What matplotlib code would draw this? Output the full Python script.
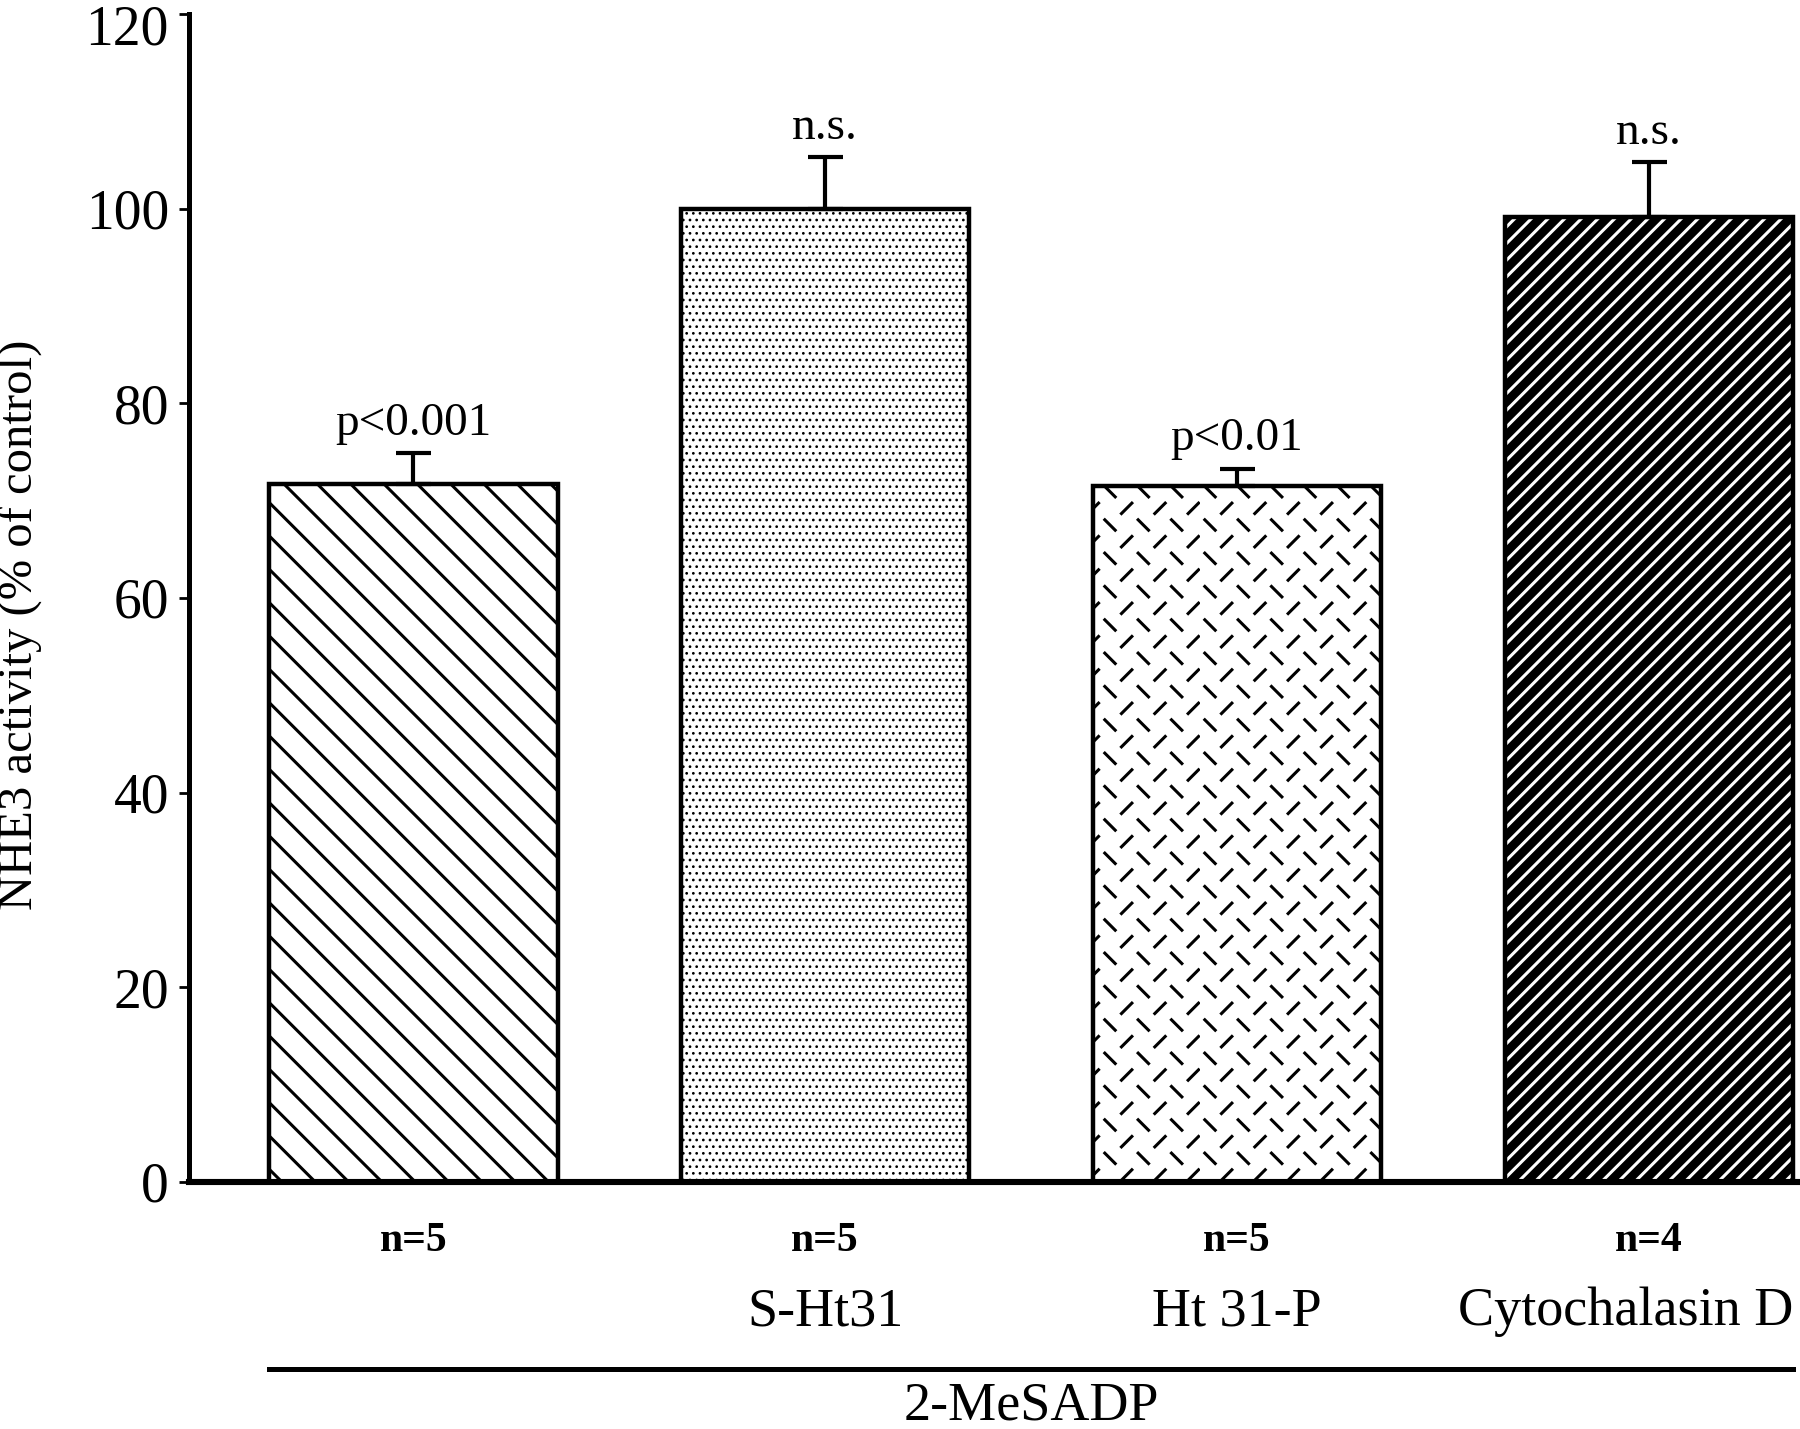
import warnings

import matplotlib
matplotlib.use('Agg')
import matplotlib.pyplot as plt
from matplotlib import hatch as mhatch
from matplotlib.path import Path
from matplotlib.transforms import ScaledTranslation

# values
groups = ['control', 'S-Ht31', 'Ht 31-P', 'Cytochalasin D']
treatments = ['', 'S-Ht31', 'Ht 31-P', 'Cytochalasin D']
n_labels = ['n=5', 'n=5', 'n=5', 'n=4']
activity = [71.7, 100.0, 71.5, 99.1]
sem = [3.2, 5.3, 1.8, 5.7]
sig_labels = ['p<0.001', 'n.s.', 'p<0.01', 'n.s.']
yticks = [0, 20, 40, 60, 80, 100, 120]


class Herringbone(mhatch.HatchPatternBase):
    """short dashes, rows alternating '\\' and '/' (hatch char 'z')"""

    def __init__(self, hatch, density):
        self.rows = 12 if 'z' in hatch else 0
        self.cols = 6
        self.num_vertices = self.rows * self.cols * 2

    def set_vertices_and_codes(self, vertices, codes):
        d = 0.026
        k = 0
        for r in range(self.rows):
            y = (r + 0.5) / self.rows
            for c in range(self.cols):
                if r % 2 == 0:
                    x = (c + 0.3) / self.cols
                    vertices[k] = (x - d, y + d)
                    vertices[k + 1] = (x + d, y - d)
                else:
                    x = (c + 0.8) / self.cols
                    vertices[k] = (x - d, y - d)
                    vertices[k + 1] = (x + d, y + d)
                codes[k] = Path.MOVETO
                codes[k + 1] = Path.LINETO
                k += 2


mhatch._hatch_types.append(Herringbone)
warnings.filterwarnings('ignore')

plt.rcParams['font.family'] = ['Liberation Serif', 'DejaVu Serif']
plt.rcParams['hatch.linewidth'] = 1.1

fig = plt.figure(figsize=(9, 7.145), dpi=200)
ax = fig.add_axes([0.105, 0.1729, 0.8933, 0.8173])

x = list(range(len(groups)))
width = 0.7
hatches = ['\\\\', '.....', 'z', '////']

for i in x:
    if i == 3:
        # dark bar: black face with thin white stripes
        b = ax.bar(i, activity[i], width, facecolor='black', edgecolor='white',
                   linewidth=0, hatch=hatches[i], zorder=2)
    else:
        b = ax.bar(i, activity[i], width, facecolor='white', edgecolor='black',
                   linewidth=0, hatch=hatches[i], zorder=2)
    if i == 1:
        for p in b:
            if hasattr(p, 'set_hatch_linewidth'):
                p.set_hatch_linewidth(0.5)
# outlines
ax.bar(x, activity, width, fill=False, edgecolor='black', linewidth=1.6, zorder=3)

ax.errorbar(x, activity, yerr=[[0] * len(sem), sem], fmt='none', ecolor='black',
            elinewidth=1.5, capsize=6.3, capthick=1.5, zorder=4)

for i in x:
    ax.annotate(sig_labels[i], (i, activity[i] + sem[i]), xytext=(0, 6.5),
                textcoords='offset points', ha='center', va='baseline', fontsize=17)

ax.set_xlim(-0.545, 3.36)
ax.set_ylim(0, 120)
ax.set_yticks(yticks)
ax.set_xticks([])
ax.tick_params(axis='y', labelsize=20, length=3.6, width=1.0, pad=3.6)
ax.set_ylabel('NHE3 activity (% of control)', fontsize=17.5)
ax.yaxis.set_label_coords(-0.0914, 0.477)

# top tick label sits a little lower so it stays inside the figure
top_lab = ax.yaxis.get_major_ticks()[-1].label1
top_lab.set_transform(top_lab.get_transform()
                      + ScaledTranslation(0, -0.05, fig.dpi_scale_trans))

for s in ['top', 'right']:
    ax.spines[s].set_visible(False)
ax.spines['left'].set_linewidth(1.8)
ax.spines['bottom'].set_linewidth(2.2)

tr = ax.get_xaxis_transform()
for i in x:
    ax.text(i, -0.0503, n_labels[i], transform=tr, ha='center', va='center',
            fontsize=15, fontweight='bold')
    if i == x[-1]:
        ax.text(i + width / 2, -0.1115, treatments[i], transform=tr, ha='right',
                va='center', fontsize=19.5)
    else:
        ax.text(i, -0.1115, treatments[i], transform=tr, ha='center', va='center',
                fontsize=19.5)

# bracket under the 2-MeSADP groups
x0, x1 = x[0] - width / 2, x[-1] + width / 2
ax.plot([x0, x1], [-0.1603, -0.1603], color='black', linewidth=1.8,
        transform=tr, clip_on=False)
ax.text((x0 + x1) / 2, -0.2035, '2-MeSADP', transform=tr, ha='center',
        va='baseline', fontsize=19.5)

plt.savefig('out.png', dpi=200)
